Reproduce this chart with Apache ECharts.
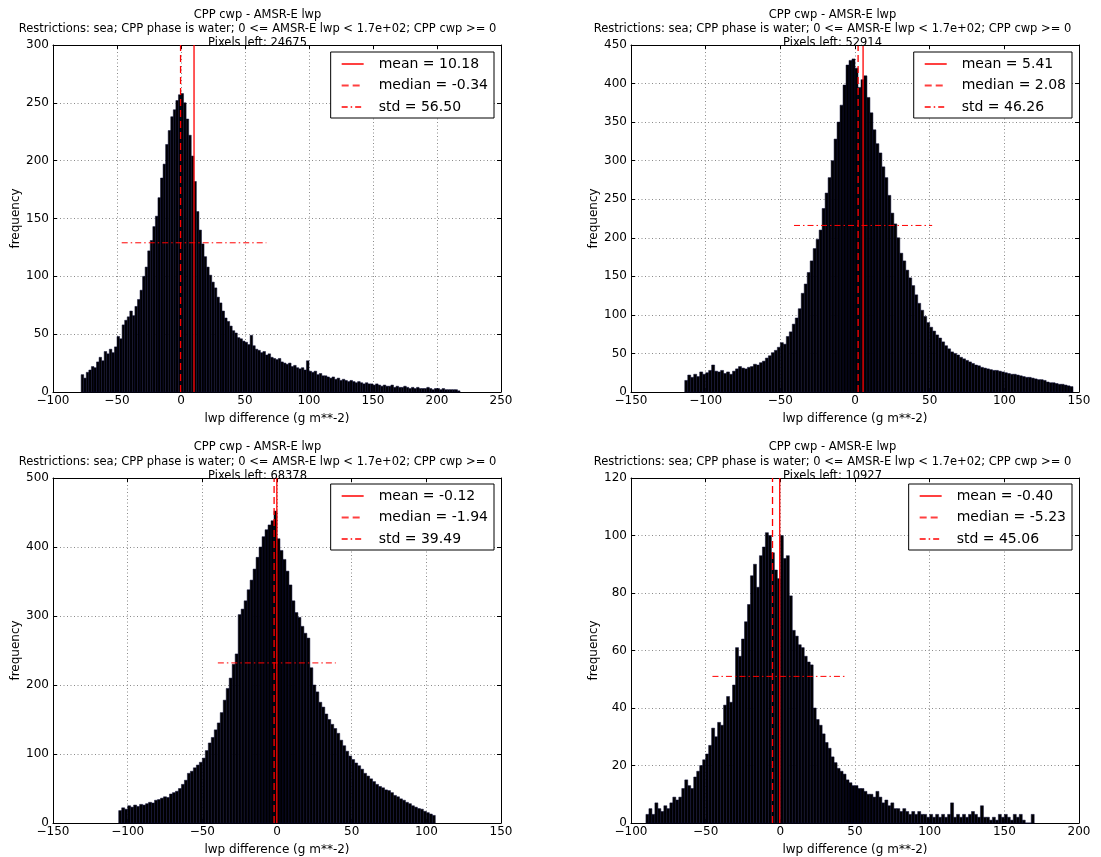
<!DOCTYPE html>
<html><head><meta charset="utf-8">
<script src="https://cdn.jsdelivr.net/npm/echarts@6/dist/echarts.min.js"></script>
<style>html,body{margin:0;padding:0;background:#fff}#c{width:1101px;height:857px}</style>
</head><body><div id="c"></div>
<script>
const FONT = 'DejaVu Sans';
const titleLine1 = 'CPP cwp - AMSR-E lwp';
const titleLine2 = 'Restrictions: sea; CPP phase is water; 0 <= AMSR-E lwp < 1.7e+02; CPP cwp >= 0';
const pixelsLeft = [24675, 52914, 68378, 10927];
const xAxisName = 'lwp difference (g m**-2)';
const yAxisName = 'frequency';

const binWidth = 2;
const binStart = [-78, -114, -106, -90];

const counts1 = [15,12,17,19,22,21,26,30,27,35,33,37,34,39,48,46,58,62,65,70,66,74,80,88,100,108,122,131,143,152,168,185,197,214,226,238,244,252,257,258,250,236,222,204,182,156,140,128,117,108,101,95,90,82,77,70,64,61,57,53,51,47,46,44,43,41,49,40,37,36,34,35,32,33,30,29,28,29,26,25,24,25,22,23,21,20,21,19,27,18,17,18,15,16,14,14,13,12,13,11,12,10,11,10,9,10,9,8,9,8,7,8,7,7,6,7,6,5,6,5,5,6,4,5,4,4,5,4,3,4,3,4,3,3,3,4,3,2,3,3,2,3,2,2,2,2,2,1];
const counts2 = [15,22,19,23,20,26,23,25,28,35,27,26,28,24,26,23,27,30,33,31,30,32,33,36,35,38,40,44,47,51,54,58,64,62,72,78,88,96,108,128,140,155,170,186,198,210,238,258,278,300,328,350,372,398,424,430,432,420,395,405,410,382,362,340,322,310,292,278,255,232,218,200,180,170,158,148,138,126,115,106,98,90,84,79,74,70,65,60,56,52,50,48,45,43,41,39,37,35,34,32,31,30,29,28,28,27,26,25,24,23,23,22,21,20,19,19,18,17,16,16,15,13,12,12,11,10,10,9,8,7];
const counts3 = [18,22,20,25,23,26,24,27,26,28,30,29,33,34,36,38,37,42,44,46,50,56,62,72,75,80,84,88,94,105,116,124,135,145,160,178,195,210,230,245,302,310,322,338,352,368,385,400,415,425,432,438,452,412,395,382,365,345,322,305,298,285,275,268,225,200,190,175,168,158,150,143,137,130,120,112,104,97,92,87,83,78,72,68,64,60,56,53,51,48,47,44,40,38,35,33,30,28,25,23,21,20,17,15,13,11];
const counts4 = [3,5,3,7,5,4,6,5,7,9,8,9,12,15,13,12,16,18,20,22,24,27,33,30,35,34,41,44,42,48,61,58,64,70,76,86,90,82,93,96,101,100,94,88,85,100,92,93,79,67,65,62,61,58,56,55,40,36,34,31,28,26,23,21,19,18,17,15,14,13,13,12,12,11,10,10,9,11,9,7,8,6,7,5,5,4,5,4,3,4,3,4,3,3,2,3,2,3,2,3,2,3,7,2,3,2,3,2,3,4,3,2,6,2,2,1,2,1,3,2,3,2,1,3,2,3,1,0,0,3];
const countsAll = [counts1, counts2, counts3, counts4];

const means = [10.18, 5.41, -0.12, -0.40];
const medians = [-0.34, 2.08, -1.94, -5.23];
const stds = [56.50, 46.26, 39.49, 45.06];
const stdLevels = [129, 216, 232, 51];

const xMin = [-100, -150, -150, -100];
const xMax = [250, 150, 150, 200];
const xStep = [50, 50, 50, 50];
const yMax = [300, 450, 500, 120];
const yStep = [50, 50, 100, 20];

// layout
const grids = [
  {left: 53, top: 45, width: 448, height: 347},
  {left: 631, top: 45, width: 448, height: 347},
  {left: 53, top: 478, width: 448, height: 346},
  {left: 631, top: 478, width: 448, height: 346}
];
const titleCx = [257.5, 832.5, 257.5, 832.5];
const titleY = [15, 15, 447.5, 447.5];
const legendRight = [607, 29, 607, 29];
const legendTop = [52, 52, 484, 484];

const minusFmt = v => String(v).replace('-', '\u2212');

const xAxes = [], yAxes = [], series = [], legends = [], graphics = [];
for (let i = 0; i < 4; i++) {
  const baseX = {
    type: 'value', gridIndex: i, min: xMin[i], max: xMax[i], interval: xStep[i],
    axisLine: {show: true, onZero: false, lineStyle: {color: '#000', width: 1}},
    axisTick: {show: true, inside: true, length: 4, lineStyle: {color: '#000'}}
  };
  xAxes.push(Object.assign({}, baseX, {
    position: 'bottom',
    name: xAxisName, nameLocation: 'middle', nameGap: 21,
    nameTextStyle: {fontFamily: FONT, fontSize: 12, color: '#000'},
    axisLabel: {fontFamily: FONT, fontSize: 12, color: '#000', margin: 3, formatter: minusFmt},
    splitLine: {show: true, lineStyle: {color: '#8a8a8a', width: 1, type: [1, 2.5]}}
  }));
  xAxes.push(Object.assign({}, baseX, {
    position: 'top', axisLabel: {show: false}, splitLine: {show: false}
  }));
  const baseY = {
    type: 'value', gridIndex: i, min: 0, max: yMax[i], interval: yStep[i],
    axisLine: {show: true, onZero: false, lineStyle: {color: '#000', width: 1}},
    axisTick: {show: true, inside: true, length: 4, lineStyle: {color: '#000'}}
  };
  yAxes.push(Object.assign({}, baseY, {
    position: 'left',
    name: yAxisName, nameLocation: 'middle', nameGap: 29, nameRotate: 90,
    nameTextStyle: {fontFamily: FONT, fontSize: 12, color: '#000'},
    axisLabel: {fontFamily: FONT, fontSize: 12, color: '#000', margin: 4},
    splitLine: {show: true, lineStyle: {color: '#8a8a8a', width: 1, type: [1, 2.5]}}
  }));
  yAxes.push(Object.assign({}, baseY, {
    position: 'right', axisLabel: {show: false}, splitLine: {show: false}
  }));

  const xi = i * 2, yi = i * 2;
  const data = countsAll[i].map((c, k) => [binStart[i] + k * binWidth, binStart[i] + (k + 1) * binWidth, c]);
  series.push({
    type: 'custom', name: 'hist' + i, xAxisIndex: xi, yAxisIndex: yi, z: 2,
    encode: {x: [0, 1], y: 2},
    data: data,
    renderItem: (params, api) => {
      const p0 = api.coord([api.value(0), api.value(2)]);
      const p1 = api.coord([api.value(1), 0]);
      return {type: 'rect', shape: {x: p0[0], y: p0[1], width: p1[0] - p0[0], height: p1[1] - p0[1]},
        style: {fill: '#000000', stroke: '#0a0a36', lineWidth: 0.5}};
    }
  });
  const nMean = 'mean = ' + means[i].toFixed(2);
  const nMed = 'median = ' + medians[i].toFixed(2);
  const nStd = 'std = ' + stds[i].toFixed(2);
  series.push({
    type: 'line', name: nMean, xAxisIndex: xi, yAxisIndex: yi, z: 5, symbol: 'none', silent: true,
    data: [[means[i], 0], [means[i], yMax[i]]],
    lineStyle: {color: '#ff0000', width: 1.3, type: 'solid'}, itemStyle: {color: '#ff0000'}
  });
  series.push({
    type: 'line', name: nMed, xAxisIndex: xi, yAxisIndex: yi, z: 5, symbol: 'none', silent: true,
    data: [[medians[i], 0], [medians[i], yMax[i]]],
    lineStyle: {color: '#ff0000', width: 1.3, type: [7, 4]}, itemStyle: {color: '#ff0000'}
  });
  series.push({
    type: 'line', name: nStd, xAxisIndex: xi, yAxisIndex: yi, z: 5, symbol: 'none', silent: true,
    data: [[means[i] - stds[i], stdLevels[i]], [means[i] + stds[i], stdLevels[i]]],
    lineStyle: {color: '#ff0000', width: 1, type: [6, 3, 1.5, 3]}, itemStyle: {color: '#ff0000'}
  });
  legends.push({
    data: [nMean, nMed, nStd], orient: 'vertical', right: legendRight[i], top: legendTop[i],
    padding: [5, 6, 4, 10], itemWidth: 22, itemHeight: 14, itemGap: 7.5,
    borderColor: '#000', borderWidth: 1, backgroundColor: '#fff', selectedMode: false,
    itemStyle: {opacity: 0, color: 'rgba(0,0,0,0)', borderWidth: 0},
    lineStyle: {opacity: 0.75},
    textStyle: {fontFamily: FONT, fontSize: 14, color: '#000', padding: [0, 0, 0, 10]}
  });
  const lines = [titleLine1, titleLine2, 'Pixels left: ' + pixelsLeft[i]];
  lines.forEach((t, k) => {
    graphics.push({type: 'text', x: titleCx[i], y: titleY[i] + k * 14.2, z: 100,
      style: {text: t, fontFamily: FONT, fontSize: 11.5, fill: '#000', align: 'center', verticalAlign: 'middle'}});
  });
}

const chart = echarts.init(document.getElementById('c'), null, {renderer: 'canvas'});
chart.setOption({
  animation: false,
  backgroundColor: '#fff',
  grid: grids.map(g => Object.assign({containLabel: false, show: false}, g)),
  xAxis: xAxes, yAxis: yAxes, series: series, legend: legends, graphic: graphics
});
</script></body></html>
